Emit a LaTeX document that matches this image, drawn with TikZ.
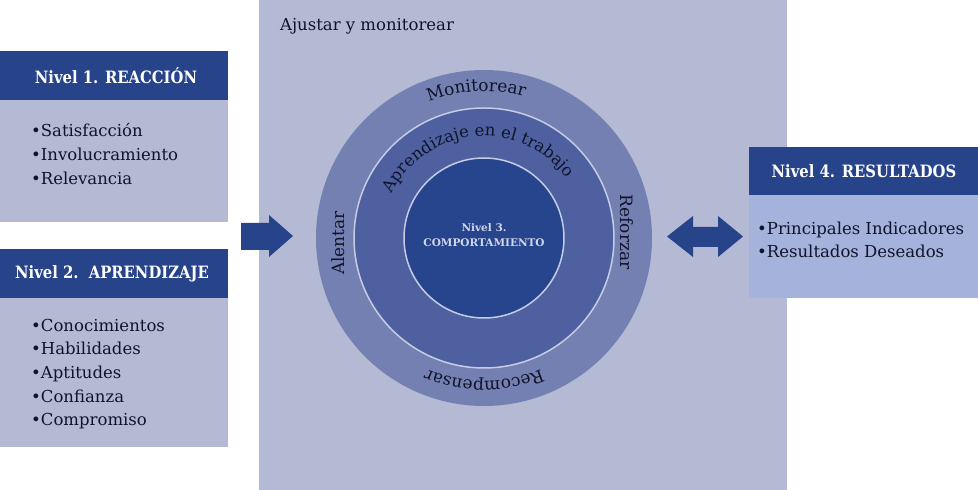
\documentclass[tikz,border=0pt]{standalone}
\usepackage{fontspec}
\setmainfont{DejaVu Serif}
\newfontfamily\headfamily{DejaVu Serif}[FakeStretch=0.87]
\usetikzlibrary{decorations.text}
\definecolor{panel}{HTML}{B4BAD3}
\definecolor{head}{HTML}{27448B}
\definecolor{bodyfour}{HTML}{A4B2DC}
\definecolor{ringouter}{HTML}{7480B1}
\definecolor{ringmid}{HTML}{4E60A0}
\definecolor{ringinner}{HTML}{27458C}
\definecolor{sepline}{HTML}{C5CCE6}
\definecolor{txt}{HTML}{10142A}
\definecolor{lvlthree}{HTML}{D0D6EC}
\newcommand{\bodyfont}{\fontsize{16.5}{20}\selectfont}
\newcommand{\circfont}{\fontsize{17}{17}\selectfont}
\newcommand{\apfont}{\fontsize{16.5}{17}\selectfont}
\tikzset{
  headbox/.style={fill=head, draw=none},
  headtext/.style={text=white, font=\headfamily\bfseries\fontsize{17}{20}\selectfont, inner sep=0},
  item/.style={anchor=base west, font=\bodyfont, text=txt, inner sep=0},
  ringtext/.style={text=txt, font=\circfont, inner sep=0},
  arrowfill/.style={fill=head, draw=none}
}
\begin{document}
\begin{tikzpicture}[x=1pt,y=1pt]
\useasboundingbox (0,0) rectangle (978,490);
% central panel
\fill[panel] (259,0) rectangle (787,490);
\node[item] (adj) at (280,459) {Ajustar y monitorear};
% box 1
\fill[panel] (0,268) rectangle (228,390);
\fill[headbox] (0,390) rectangle (228,439);
\node[headtext] (h1) at (116,414.5) {Nivel 1. REACCIÓN};
\node[item] (a1) at (31,353) {•Satisfacción};
\node[item] (a2) at (31,329) {•Involucramiento};
\node[item] (a3) at (31,305) {•Relevancia};
% box 2
\fill[panel] (0,43) rectangle (228,192);
\fill[headbox] (0,192) rectangle (228,241);
\node[headtext] (h2) at (112,216.5) {Nivel 2.\ \ APRENDIZAJE};
\node[item] (b1) at (31,158) {•Conocimientos};
\node[item] (b2) at (31,135) {•Habilidades};
\node[item] (b3) at (31,111) {•Aptitudes};
\node[item] (b4) at (31,87) {•Confianza};
\node[item] (b5) at (31,64) {•Compromiso};
% box 4
\fill[bodyfour] (749,192) rectangle (978,295);
\fill[headbox] (749,295) rectangle (978,343);
\node[headtext] (h4) at (864,319) {Nivel 4. RESULTADOS};
\node[item] (d1) at (757,255) {•Principales Indicadores};
\node[item] (d2) at (757,232) {•Resultados Deseados};
% circles
\coordinate (c) at (484,252);
\node[circle, fill=ringouter, minimum size=336pt, inner sep=0] (outer) at (c) {};
\node[circle, fill=ringmid, draw=sepline, line width=1.5pt, minimum size=260pt, inner sep=0] (mid) at (c) {};
\node[circle, fill=ringinner, draw=sepline, line width=1.5pt, minimum size=160pt, inner sep=0] (inner) at (c) {};
\node[align=center, text=lvlthree, font=\bfseries\fontsize{10.5}{15}\selectfont] (n3) at (484,255) {Nivel 3.\\COMPORTAMIENTO};
% ring texts
\path[decorate, decoration={text along path, text align=center, text color=txt,
  text={|\circfont|Monitorear}}]
  ([shift={(128:147pt)}]c) arc[start angle=128, end angle=58, radius=147pt];
\path[decorate, decoration={text along path, text align=center, text color=txt,
  text={|\circfont|Recompensar}}]
  ([shift={(305:143pt)}]c) arc[start angle=305, end angle=235, radius=143pt];
\path[decorate, decoration={text along path, text align=center, text color=txt,
  text={|\apfont|Aprendizaje en el trabajo}}]
  ([shift={(175:102pt)}]c) arc[start angle=175, end angle=15, radius=102pt];
\node[ringtext, rotate=90] (alentar) at (338,247) {Alentar};
\node[ringtext, rotate=-90] (reforzar) at (627,258) {Reforzar};
% arrows
\fill[arrowfill] (241,240) -- (269,240) -- (269,233) -- (293,254) -- (269,275) -- (269,267) -- (241,267) -- cycle;
\fill[arrowfill] (667,253.5) -- (693,274) -- (693,263) -- (718,263) -- (718,274) -- (743,253.5) -- (718,233) -- (718,243) -- (693,243) -- (693,233) -- cycle;
\end{tikzpicture}
\end{document}
